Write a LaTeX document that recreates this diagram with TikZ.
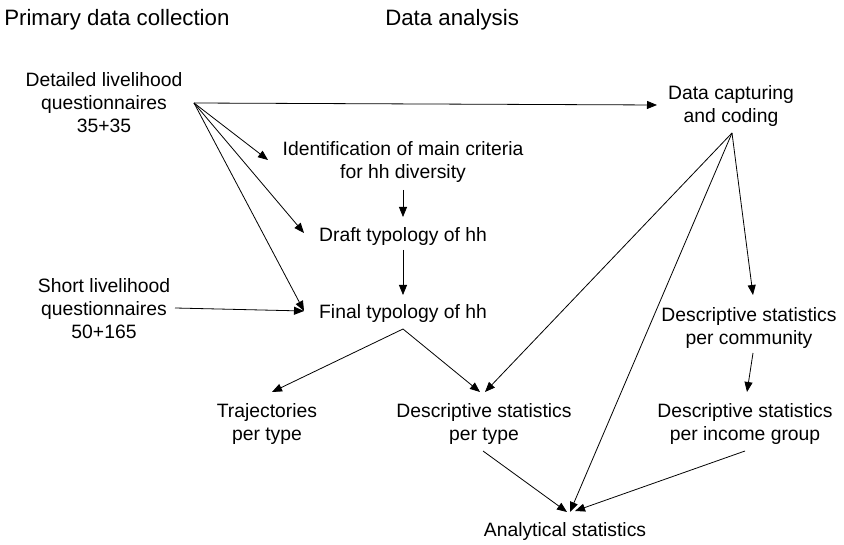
\documentclass[tikz,border=0pt]{standalone}
\usepackage{fontspec}
\setmainfont{Liberation Sans}
\usetikzlibrary{arrows.meta}

\tikzset{
  lbl/.style={inner sep=0.75pt, align=center, font=\fontsize{14.5}{17.3}\selectfont},
  head/.style={inner sep=0.75pt, anchor=west, font=\fontsize{16.7}{20}\selectfont},
  arr/.style={-{Triangle[length=7.5pt,width=6pt]}, line width=0.6pt},
}

\begin{document}
\begin{tikzpicture}[x=0.75pt,y=0.75pt,yscale=-1,xscale=1]
\useasboundingbox (0,0) rectangle (844,545);

% Text Node
\node[head] (primary) at (3,20) {Primary data collection};
% Text Node
\node[head] (analysis) at (384,20) {Data analysis};
% Text Node
\node[lbl] (detailed) at (104,103) {Detailed livelihood\\questionnaires\\35+35};
% Text Node
\node[lbl] (short) at (104,309) {Short livelihood\\questionnaires\\50+165};
% Text Node
\node[lbl] (ident) at (403,162) {Identification of main criteria\\for hh diversity};
% Text Node
\node[lbl] (draft) at (403,237) {Draft typology of hh};
% Text Node
\node[lbl] (final) at (403,314) {Final typology of hh};
% Text Node
\node[lbl] (capt) at (731,106) {Data capturing\\and coding};
% Text Node
\node[lbl] (traj) at (267,424) {Trajectories\\per type};
% Text Node
\node[lbl] (dtype) at (484,424) {Descriptive statistics\\per type};
% Text Node
\node[lbl] (dcomm) at (749,328) {Descriptive statistics\\per community};
% Text Node
\node[lbl] (dinc) at (745,424) {Descriptive statistics\\per income group};
% Text Node
\node[lbl] (anal) at (565,532) {Analytical statistics};

% Connector ends
\coordinate (detq) at (194,103);
\coordinate (shortq) at (175,308);
\coordinate (captb) at (732,133);
\coordinate (finalb) at (403,329);
\coordinate (captl) at (657,105);
\coordinate (identl) at (268,160);
\coordinate (identb) at (403,190);
\coordinate (draftl) at (304,233);
\coordinate (draftt) at (403,217);
\coordinate (draftb) at (403,250);
\coordinate (finall) at (304,311);
\coordinate (finalt) at (403,295);
\coordinate (trajt) at (272,392);
\coordinate (dtypetl) at (480,392);
\coordinate (dtypetr) at (485,392);
\coordinate (dtypeb) at (483,451);
\coordinate (dcommt) at (753,295);
\coordinate (dcommb) at (753,353);
\coordinate (dinct) at (747,392);
\coordinate (dincb) at (745,451);
\coordinate (analtl) at (567,512);
\coordinate (analtm) at (570,512);
\coordinate (analtr) at (575,511);

%Straight Lines
\draw[arr] (detq) -- (captl);
\draw[arr] (detq) -- (identl);
\draw[arr] (detq) -- (draftl);
\draw[arr] (detq) -- (finall);
\draw[arr] (shortq) -- (finall);
%Straight Lines
\draw[arr] (identb) -- (draftt);
\draw[arr] (draftb) -- (finalt);
\draw[arr] (finalb) -- (trajt);
\draw[arr] (finalb) -- (dtypetl);
%Straight Lines
\draw[arr] (captb) -- (dtypetr);
\draw[arr] (captb) -- (analtm);
\draw[arr] (captb) -- (dcommt);
\draw[arr] (dcommb) -- (dinct);
%Straight Lines
\draw[arr] (dtypeb) -- (analtl);
\draw[arr] (dincb) -- (analtr);

\end{tikzpicture}
\end{document}
